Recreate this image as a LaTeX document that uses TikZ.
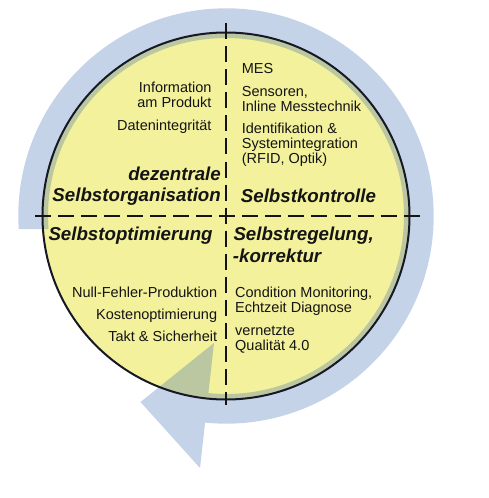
\documentclass[tikz,border=0pt]{standalone}
\usepackage{fontspec}
\setmainfont{Liberation Sans}
\definecolor{ringblue}{RGB}{197,211,233}
\definecolor{discyellow}{RGB}{243,241,155}
\definecolor{overlapgreen}{RGB}{187,199,160}
\definecolor{outline}{RGB}{22,24,38}
\definecolor{inktext}{RGB}{20,20,20}
\newcommand\ringshape{(183.6:207.7pt) arc[start angle=183.6, end angle=-95.78, radius=207.7pt]
  -- (-26,-252) -- (-85.5,-186) -- (-12,-127) -- (-95.68:178pt)
  arc[start angle=-95.68, end angle=184.19, radius=178pt] -- cycle}
\begin{document}
\begin{tikzpicture}[x=1pt,y=1pt,
  txt/.style={font=\fontsize{14.5}{15}\selectfont, inner sep=0pt, text=inktext},
  ttl/.style={font=\fontsize{18.7}{22}\selectfont\bfseries\itshape, inner sep=0pt, text=inktext},
  axisline/.style={line width=2.3pt, draw=inktext, dash pattern=on 16pt off 7.04pt}]
\useasboundingbox (0,0) rectangle (488,498);
\coordinate (C) at (226,282);
\begin{scope}[shift={(C)}]
  \fill[ringblue] \ringshape;
  \fill[discyellow] (0,0) circle[radius=183.5pt];
  \begin{scope}
    \clip (0,0) circle[radius=183.5pt];
    \fill[overlapgreen] \ringshape;
  \end{scope}
  \draw[outline, line width=2pt] (0,0) circle[radius=183.5pt];
\end{scope}
% axes
\coordinate (hl) at (35,282);
\coordinate (hr) at (420,282);
\coordinate (vt) at (226,474.7);
\coordinate (vb) at (226,93);
\draw[axisline] (hl) -- (hr);
\draw[axisline] (vt) -- (vb);
% upper left
\node[txt, anchor=base east] (info1) at (211.7,405) {Information};
\node[txt, anchor=base east] (info2) at (211.7,390.3) {am Produkt};
\node[txt, anchor=base east] (daten) at (211.7,367) {Datenintegrität};
\node[ttl, anchor=base east] (dez1) at (221,317.5) {dezentrale};
\node[ttl, anchor=base east] (dez2) at (221,296.3) {Selbstorganisation};
% upper right
\node[txt, anchor=base west] (mes) at (241.7,424) {MES};
\node[txt, anchor=base west] (sens1) at (241.7,401.7) {Sensoren,};
\node[txt, anchor=base west] (sens2) at (241.7,386.7) {Inline Messtechnik};
\node[txt, anchor=base west] (ident1) at (241.7,364.3) {Identifikation \&};
\node[txt, anchor=base west] (ident2) at (241.7,349.3) {Systemintegration};
\node[txt, anchor=base west] (ident3) at (241.7,334.3) {(RFID, Optik)};
\node[ttl, anchor=base west] (kontr) at (240.7,295.7) {Selbstkontrolle};
% lower left
\node[ttl, anchor=base west] (opt) at (48.3,257.3) {Selbstoptimierung};
\node[txt, anchor=base east] (null) at (217.3,200.3) {Null-Fehler-Produktion};
\node[txt, anchor=base east] (kosten) at (217.3,178.3) {Kostenoptimierung};
\node[txt, anchor=base east] (takt) at (217.3,156) {Takt \& Sicherheit};
% lower right
\node[ttl, anchor=base west] (reg1) at (233.3,257.3) {Selbstregelung,};
\node[ttl, anchor=base west] (reg2) at (232.7,235.3) {-korrektur};
\node[txt, anchor=base west] (cond1) at (235,200.3) {Condition Monitoring,};
\node[txt, anchor=base west] (cond2) at (235,185) {Echtzeit Diagnose};
\node[txt, anchor=base west] (vern1) at (235,162.3) {vernetzte};
\node[txt, anchor=base west] (vern2) at (235,147) {Qualität 4.0};
\end{tikzpicture}
\end{document}
